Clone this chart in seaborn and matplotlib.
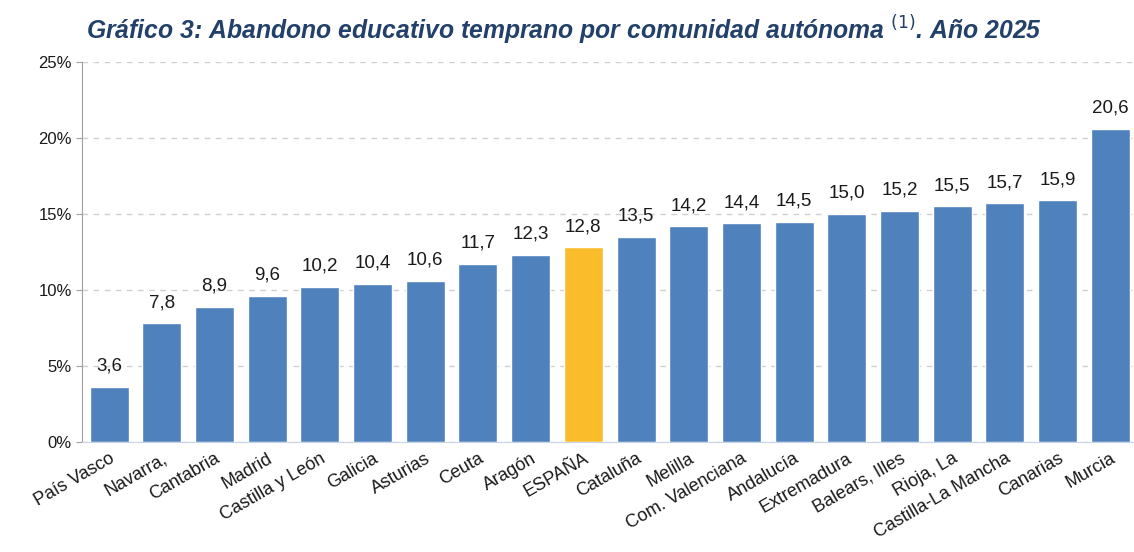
import numpy as np
import pandas as pd
import matplotlib
matplotlib.use("Agg")
import matplotlib.pyplot as plt
import seaborn as sns

regiones = ['País Vasco', 'Navarra,', 'Cantabria', 'Madrid', 'Castilla y León', 'Galicia',
            'Asturias', 'Ceuta', 'Aragón', 'ESPAÑA', 'Cataluña', 'Melilla',
            'Com. Valenciana', 'Andalucía', 'Extremadura', 'Balears, Illes', 'Rioja, La',
            'Castilla-La Mancha', 'Canarias', 'Murcia']
valores = [3.6, 7.8, 8.9, 9.6, 10.2, 10.4, 10.6, 11.7, 12.3, 12.8, 13.5, 14.2,
           14.4, 14.5, 15.0, 15.2, 15.5, 15.7, 15.9, 20.6]
yticks = [0, 5, 10, 15, 20, 25]

df = pd.DataFrame({'region': regiones, 'valor': valores})
colores = ['#FBBC2C' if r == 'ESPAÑA' else '#4F81BD' for r in regiones]

sns.set_style("white")
plt.rcParams['font.family'] = ['Liberation Sans', 'DejaVu Sans']

fig = plt.figure(figsize=(11.34, 5.52), dpi=100)
ax = fig.add_axes([0.072, 0.20, 0.928, 0.687])

sns.barplot(data=df, x='region', y='valor', hue='region', palette=colores,
            legend=False, width=0.74, ax=ax, saturation=1)

for i, v in enumerate(valores):
    ax.text(i, v + 0.8, f"{v:.1f}".replace('.', ','), ha='center', va='bottom',
            fontsize=13.5, color='#1a1a1a')

ax.set_ylim(0, 25)
ax.set_xlim(-0.52, 19.45)
ax.set_yticks(yticks)
ax.set_yticklabels([f"{t}%" for t in yticks], fontsize=12, color='#1a1a1a')
ax.yaxis.grid(True, linestyle=(0, (4, 4)), color='#D0D0D0', linewidth=1)
ax.set_axisbelow(True)
ax.set_xticks(range(len(regiones)))
ax.set_xticklabels(regiones, rotation=30, ha='right', rotation_mode='anchor',
                   fontsize=13, color='#1a1a1a')
ax.tick_params(axis='x', length=0, pad=6)
ax.tick_params(axis='y', length=4, color='#A0A0A0', left=True, pad=3)
ax.set_xlabel('')
ax.set_ylabel('')

for s in ['top', 'right']:
    ax.spines[s].set_visible(False)
ax.spines['left'].set_color('#A0A0A0')
ax.spines['bottom'].set_color('#C6D4E6')

fig.text(0.497, 0.945, 'Gráfico 3: Abandono educativo temprano por comunidad autónoma $^{(1)}$. Año 2025',
         ha='center', va='center', fontsize=17.8, fontweight='bold', style='italic', color='#22406A')

fig.savefig('out.png', dpi=100)
